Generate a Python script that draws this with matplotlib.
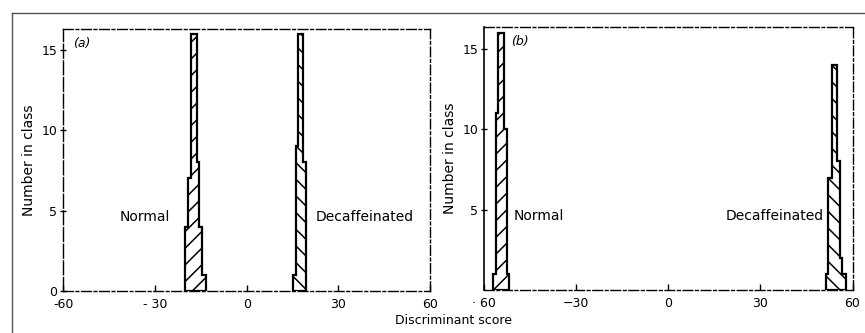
"""Discriminant score histograms, normal vs decaffeinated (two panels)."""

import matplotlib

matplotlib.use("Agg")
import matplotlib.pyplot as plt
from matplotlib.lines import Line2D

# step outlines of each histogram: edge x positions and the count each edge climbs to
# panel (a)
a_normal_left_x = [-20.1, -19.1, -18.1]
a_normal_left_top = [4, 7, 16]
a_normal_right_x = [-13.4, -14.6, -15.6, -16.4]
a_normal_right_top = [1, 4, 8, 16]

a_decaf_left_x = [15.1, 16.1, 16.9]
a_decaf_left_top = [1, 9, 16]
a_decaf_right_x = [19.4, 18.5]
a_decaf_right_top = [8, 16]

# panel (b)
b_normal_left_x = [-57.2, -56.2, -55.4]
b_normal_left_top = [1, 11, 16]
b_normal_right_x = [-51.9, -52.7, -53.6]
b_normal_right_top = [1, 10, 16]

b_decaf_left_x = [51.3, 52.1, 53.4]
b_decaf_left_top = [1, 7, 14]
b_decaf_right_x = [57.8, 56.7, 55.9, 54.8]
b_decaf_right_top = [1, 2, 8, 14]

x_ticks = [-60, -30, 0, 30, 60]
a_xticklabels = ["-60", "- 30", "0", "30", "60"]
b_xticklabels = ["· 60", "\u221230", "0", "30", "60"]
a_yticks = [0, 5, 10, 15]
b_yticks = [5, 10, 15]


def outline(left_x, left_top, right_x, right_top):
    """Closed step polygon climbing the left edges and coming down the right ones."""
    pts = [(left_x[0], 0)]
    for i, x in enumerate(left_x):
        pts.append((x, left_top[i]))
        if i + 1 < len(left_x):
            pts.append((left_x[i + 1], left_top[i]))
    for i in range(len(right_x) - 1, -1, -1):
        pts.append((right_x[i], right_top[i]))
        low = right_top[i - 1] if i > 0 else 0
        pts.append((right_x[i], low))
        if i > 0:
            pts.append((right_x[i - 1], low))
    xs, ys = zip(*pts)
    return xs, ys


def draw_shape(ax, shape, hatch):
    xs, ys = outline(*shape)
    ax.fill(xs, ys, facecolor="white", edgecolor="black", hatch=hatch, linewidth=1.6)


plt.rcParams["font.family"] = ["DejaVu Sans"]
plt.rcParams["hatch.linewidth"] = 1.1

fig = plt.figure(figsize=(8.65, 3.33), dpi=100)

# gray frame around the figure (scan border)
fig.add_artist(Line2D([12 / 865, 12 / 865], [0, 1 - 13 / 333], color="#555555", lw=1.0))
fig.add_artist(Line2D([12 / 865, 1], [1 - 13 / 333, 1 - 13 / 333], color="#555555", lw=1.0))

ax_a = fig.add_axes([0.0732, 0.1261, 0.4239, 0.7868])
ax_b = fig.add_axes([0.5599, 0.1291, 0.4257, 0.7898])

dashdot = (0, (7, 2, 2, 2))
for ax in (ax_a, ax_b):
    ax.set_xlim(-60, 60)
    ax.set_xticks(x_ticks)
    for side in ("top", "bottom", "right"):
        ax.spines[side].set_linestyle(dashdot)
        ax.spines[side].set_linewidth(1.0)
    ax.tick_params(axis="x", direction="in", length=4, width=1, labelsize=9, pad=5)
    ax.tick_params(axis="y", direction="inout", length=5, width=1, labelsize=9, pad=2)
    ax.set_ylabel("Number in class", fontsize=10, labelpad=4)

ax_a.spines["left"].set_linestyle((0, (10, 2)))
ax_a.spines["left"].set_linewidth(1.0)
ax_b.spines["left"].set_linewidth(1.2)

# panel (a)
ax_a.set_ylim(0, 16.3)
ax_a.set_yticks(a_yticks)
ax_a.set_xticklabels(a_xticklabels)
draw_shape(ax_a, (a_normal_left_x, a_normal_left_top, a_normal_right_x, a_normal_right_top), "//")
draw_shape(ax_a, (a_decaf_left_x, a_decaf_left_top, a_decaf_right_x, a_decaf_right_top), "\\\\")
ax_a.text(-56.8, 15.4, "(a)", fontsize=9, style="italic", va="center")
ax_a.text(-41.5, 4.6, "Normal", fontsize=10, va="center")
ax_a.text(22.7, 4.6, "Decaffeinated", fontsize=10, va="center")

# panel (b)
ax_b.set_ylim(0, 16.37)
ax_b.set_yticks(b_yticks)
ax_b.set_xticklabels(b_xticklabels)
draw_shape(ax_b, (b_normal_left_x, b_normal_left_top, b_normal_right_x, b_normal_right_top), "//")
draw_shape(ax_b, (b_decaf_left_x, b_decaf_left_top, b_decaf_right_x, b_decaf_right_top), "\\\\")
ax_b.text(-51.3, 15.45, "(b)", fontsize=9, style="italic", va="center")
ax_b.text(-50.3, 4.6, "Normal", fontsize=10, va="center")
ax_b.text(18.7, 4.6, "Decaffeinated", fontsize=10, va="center")

fig.text(454 / 865, 1 - 320 / 333, "Discriminant score", fontsize=9, ha="center", va="center")

fig.savefig("out.png", dpi=100)
plt.close(fig)
